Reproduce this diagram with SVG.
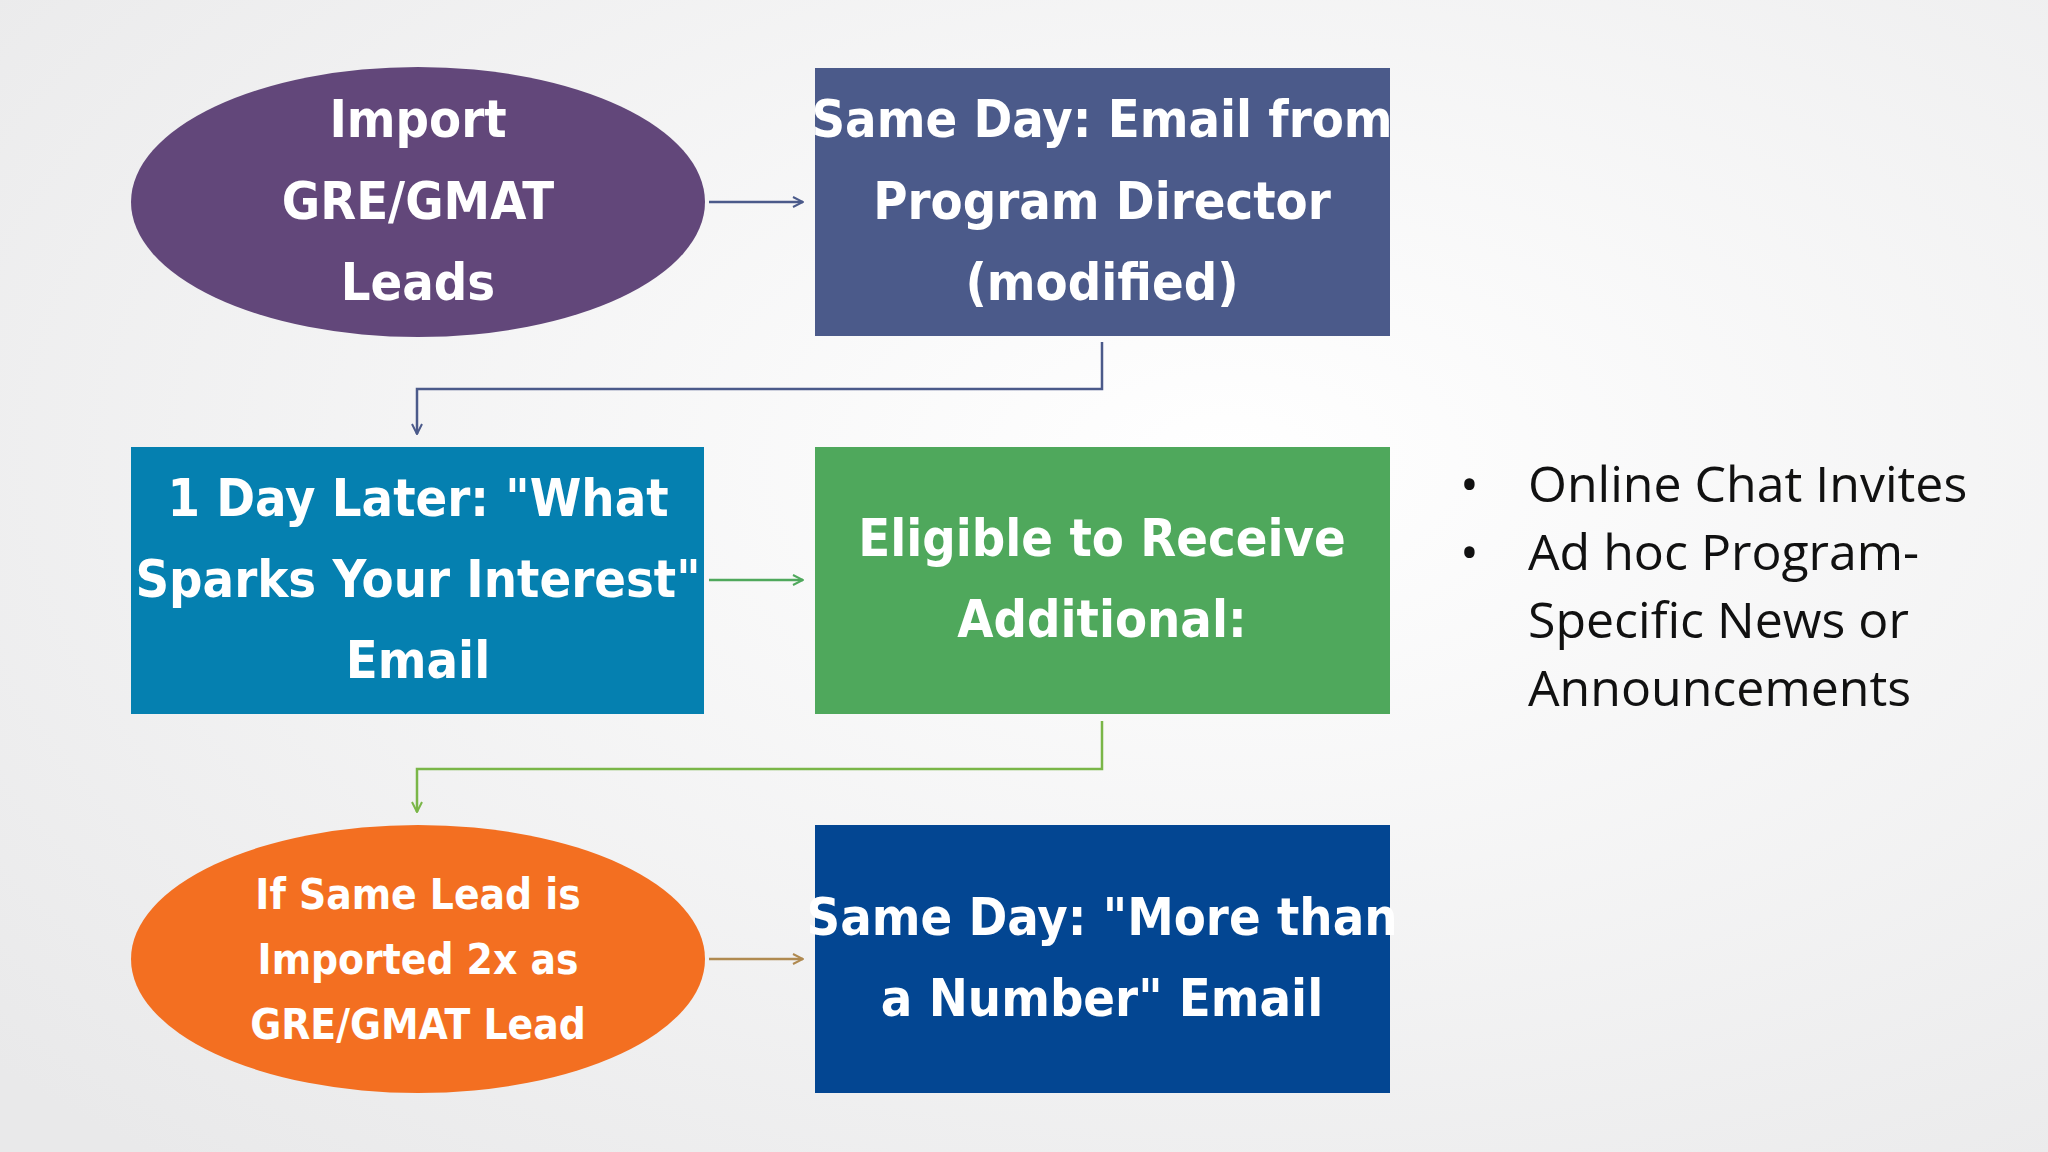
<svg xmlns="http://www.w3.org/2000/svg" width="2048" height="1152" viewBox="0 0 2048 1152">
<defs>
<radialGradient id="bg" cx="0.6" cy="0.4" r="0.8"><stop offset="0" stop-color="#ffffff"/><stop offset="1" stop-color="#e9e9ea"/></radialGradient>
<marker id="ah" viewBox="0 0 12 12" refX="11" refY="6" markerWidth="12" markerHeight="12" markerUnits="userSpaceOnUse" orient="auto"><path d="M1 1 L11 6 L1 11" fill="none" stroke="context-stroke" stroke-width="2"/></marker>
<style>
.t{font-family:"DejaVu Sans Condensed","DejaVu Sans",sans-serif;font-weight:bold;font-stretch:condensed;fill:#fff;text-anchor:middle;font-size:52px}
.s{font-size:42px}
.c{fill:none;stroke-width:2.5;marker-end:url(#ah)}
.b{font-family:"Open Sans",sans-serif;font-size:50px;fill:#111}
</style>
</defs>
<rect width="2048" height="1152" fill="url(#bg)"/>
<g id="n1"><ellipse cx="418" cy="202" rx="287" ry="135" fill="#62477A"/>
<text class="t" x="418" y="137">Import</text><text class="t" x="418" y="219">GRE/GMAT</text><text class="t" x="418" y="300">Leads</text></g>
<g id="n2"><rect x="815" y="68" width="575" height="268" fill="#4B5A8A"/>
<text class="t" x="1102" y="137">Same Day: Email from</text><text class="t" x="1102" y="219">Program Director</text><text class="t" x="1102" y="300">(modified)</text></g>
<g id="n3"><rect x="131" y="447" width="573" height="267" fill="#0580B0"/>
<text class="t" x="418" y="516">1 Day Later: "What</text><text class="t" x="418" y="597">Sparks Your Interest"</text><text class="t" x="418" y="678">Email</text></g>
<g id="n4"><rect x="815" y="447" width="575" height="267" fill="#4FA85C"/>
<text class="t" x="1102" y="556">Eligible to Receive</text><text class="t" x="1102" y="637">Additional:</text></g>
<g id="n5"><ellipse cx="418" cy="959" rx="287" ry="134" fill="#F36F21"/>
<text class="t s" x="418" y="909">If Same Lead is</text><text class="t s" x="418" y="974">Imported 2x as</text><text class="t s" x="418" y="1039">GRE/GMAT Lead</text></g>
<g id="n6"><rect x="815" y="825" width="575" height="268" fill="#034692"/>
<text class="t" x="1102" y="935">Same Day: "More than</text><text class="t" x="1102" y="1016">a Number" Email</text></g>
<g id="notes"><text class="b" x="1460" y="502">•</text><text class="b" x="1528" y="502">Online Chat Invites</text>
<text class="b" x="1460" y="570">•</text><text class="b" x="1528" y="570">Ad hoc Program-</text>
<text class="b" x="1528" y="638">Specific News or</text><text class="b" x="1528" y="706">Announcements</text></g>
<g id="connectors">
<line class="c" x1="709" y1="202" x2="803" y2="202" stroke="#4B5A8A"/>
<polyline class="c" points="1102,342 1102,389 417,389 417,434" stroke="#4B5A8A"/>
<line class="c" x1="709" y1="580" x2="803" y2="580" stroke="#4FA85C"/>
<polyline class="c" points="1102,721 1102,769 417,769 417,812" stroke="#7AB648"/>
<line class="c" x1="709" y1="959" x2="803" y2="959" stroke="#B08A50"/>
</g>
</svg>
